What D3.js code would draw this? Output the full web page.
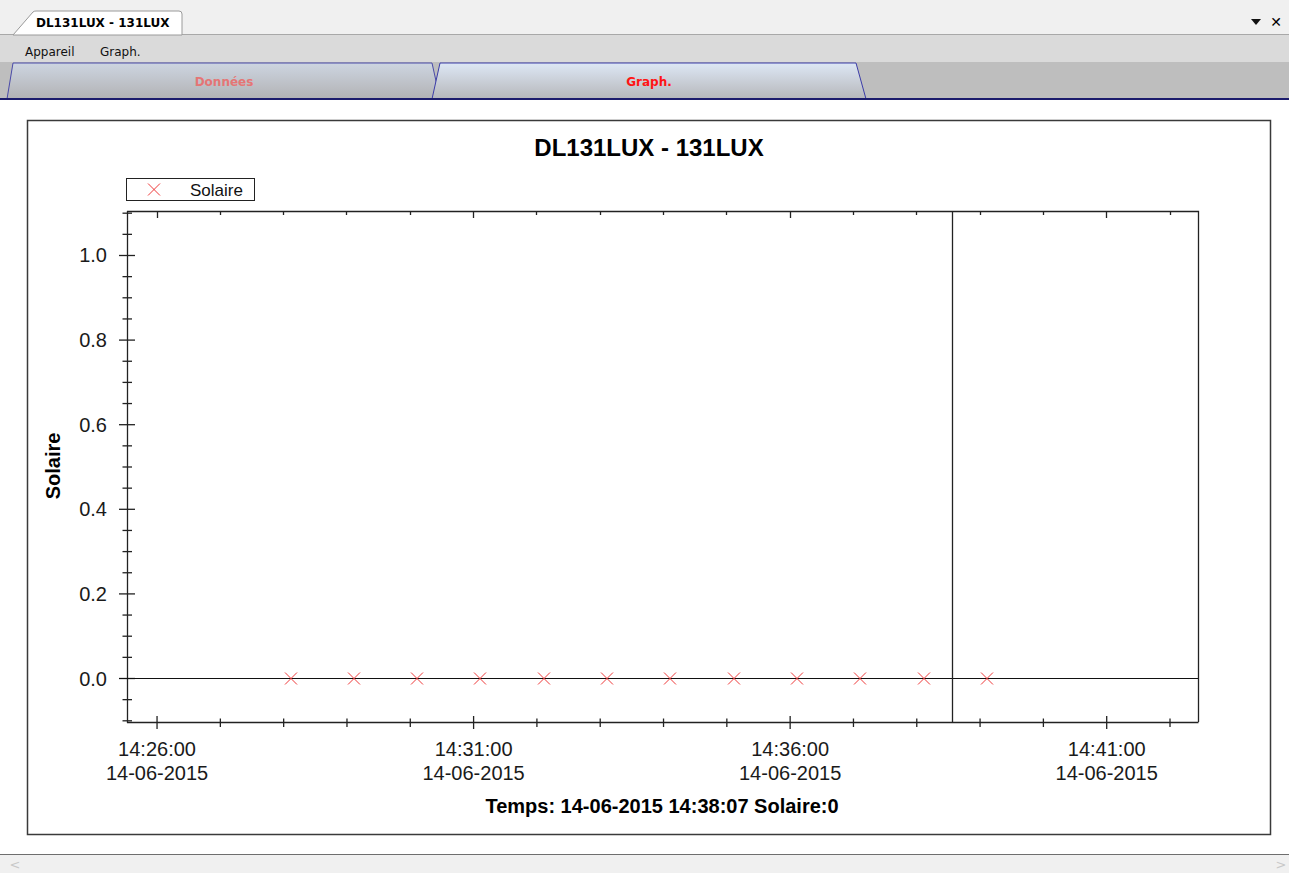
<!DOCTYPE html>
<html><head><meta charset="utf-8">
<script src="https://cdn.jsdelivr.net/npm/d3@7"></script>
<style>html,body{margin:0;padding:0;background:#fff;overflow:hidden}</style>
</head><body>
<svg id="c" width="1289" height="873"></svg>
<script>
// ---- data ----
const chartTitle = "DL131LUX - 131LUX";
const seriesName = "Solaire";
const dateLabel = "14-06-2015";
const sampleTimes = ["14:28:07","14:29:07","14:30:07","14:31:07","14:32:07","14:33:07","14:34:07","14:35:07","14:36:07","14:37:07","14:38:07","14:39:07"];
const solaireValues = [0,0,0,0,0,0,0,0,0,0,0,0];
const yTickValues = [0.0,0.2,0.4,0.6,0.8,1.0];
const xMajorTicks = ["14:26:00","14:31:00","14:36:00","14:41:00"];
const xDomainTimes = ["14:25:32","14:42:27.5"];
const yDomain = [-0.104,1.104];
const cursorTime = "14:38:34";
const statusText = "Temps: 14-06-2015 14:38:07 Solaire:0";

const parseT = s => { const p = s.split(":").map(Number); return new Date(2015,5,14,p[0],p[1],p[2]); };

const svg = d3.select("#c");
const F = "'Liberation Sans', Arial, sans-serif";
const UI = "'DejaVu Sans', 'Noto Sans', sans-serif";

// ---- window chrome ----
const defs = svg.append("defs");
const g1 = defs.append("linearGradient").attr("id","tabA").attr("x1",0).attr("y1",0).attr("x2",0).attr("y2",1);
g1.append("stop").attr("offset","0%").attr("stop-color","#dde7f5");
g1.append("stop").attr("offset","100%").attr("stop-color","#b6b7ba");
const g2 = defs.append("linearGradient").attr("id","tabB").attr("x1",0).attr("y1",0).attr("x2",0).attr("y2",1);
g2.append("stop").attr("offset","0%").attr("stop-color","#cdd5e1");
g2.append("stop").attr("offset","100%").attr("stop-color","#b2b2b4");

svg.append("rect").attr("x",0).attr("y",0).attr("width",1289).attr("height",35).attr("fill","#f0f0f0");
svg.append("rect").attr("x",0).attr("y",35).attr("width",1289).attr("height",27).attr("fill","#dadada");
svg.append("line").attr("x1",0).attr("x2",1289).attr("y1",34.5).attr("y2",34.5).attr("stroke","#a8a8a8");
svg.append("path").attr("d","M13,35 L33,12 Q34,11 36,11 L179,11 Q182,11 182,14 L182,35 Z")
  .attr("fill","#fff").attr("stroke","#9a9a9a");
svg.append("text").attr("x",36).attr("y",27).attr("font-family",UI).attr("font-size",12).attr("font-weight","bold").attr("fill","#000").text(chartTitle);
svg.append("path").attr("d","M1251,19 L1261,19 L1256,25 Z").attr("fill","#111");
svg.append("text").attr("x",1276).attr("y",27).attr("font-family",UI).attr("font-size",14).attr("text-anchor","middle").text("✕");
svg.append("text").attr("x",25).attr("y",56).attr("font-family",UI).attr("font-size",12).attr("fill","#111").text("Appareil");
svg.append("text").attr("x",100).attr("y",56).attr("font-family",UI).attr("font-size",12).attr("fill","#111").text("Graph.");

svg.append("rect").attr("x",0).attr("y",62).attr("width",1289).attr("height",37).attr("fill","#bebebe");
svg.append("path").attr("d","M7,99 L13,63 L432,63 L440,99 Z").attr("fill","url(#tabB)").attr("stroke","#4a4aa8");
svg.append("path").attr("d","M432,99 L440,63 L856,63 L866,99 Z").attr("fill","url(#tabA)").attr("stroke","#3c3ca8");
svg.append("line").attr("x1",0).attr("x2",1289).attr("y1",99).attr("y2",99).attr("stroke","#1c1c6c").attr("stroke-width",2);
svg.append("text").attr("x",224).attr("y",86).attr("text-anchor","middle").attr("font-family",UI).attr("font-size",12).attr("font-weight","bold").attr("fill","#e57575").text("Données");
svg.append("text").attr("x",649).attr("y",86).attr("text-anchor","middle").attr("font-family",UI).attr("font-size",12).attr("font-weight","bold").attr("fill","#ff1414").text("Graph.");

svg.append("rect").attr("x",0).attr("y",855).attr("width",1289).attr("height",18).attr("fill","#f0f0f0");
svg.append("line").attr("x1",0).attr("x2",1289).attr("y1",854.5).attr("y2",854.5).attr("stroke","#6e6e6e");
svg.append("text").attr("x",15).attr("y",869).attr("font-family",UI).attr("font-size",13).attr("fill","#c8c8c8").attr("text-anchor","middle").text("<");
svg.append("text").attr("x",1281).attr("y",869).attr("font-family",UI).attr("font-size",13).attr("fill","#c8c8c8").attr("text-anchor","middle").text(">");

// ---- chart frame ----
svg.append("rect").attr("x",27.5).attr("y",120.5).attr("width",1243).attr("height",714).attr("fill","#fff").attr("stroke","#3a3a3a").attr("stroke-width",1.5);

const L = 127, R = 1198, T = 211, B = 722;
const x = d3.scaleTime().domain(xDomainTimes.map(parseT)).range([L,R]);
const y = d3.scaleLinear().domain(yDomain).range([B,T]);

svg.append("text").attr("x",649).attr("y",156).attr("text-anchor","middle").attr("font-family",F).attr("font-size",24).attr("font-weight","bold").attr("fill","#000").text(chartTitle);

// legend
svg.append("rect").attr("x",126.5).attr("y",178.5).attr("width",128).attr("height",22).attr("fill","#fff").attr("stroke","#222");
const mk = (gs, cx, cy, r) => gs.append("path").attr("d",`M${cx-r},${cy-r}L${cx+r},${cy+r}M${cx-r},${cy+r}L${cx+r},${cy-r}`).attr("stroke","#ef3a3a").attr("stroke-width",1).attr("fill","none");
mk(svg,154,189.5,6);
svg.append("text").attr("x",190).attr("y",195.5).attr("font-family",F).attr("font-size",17).attr("fill","#111").text(seriesName);

// plot box (top and right)
svg.append("path").attr("d",`M${L},${T+0.5}H${R+0.5}V${B}`).attr("fill","none").attr("stroke","#222").attr("stroke-width",1.3);

// x axis minor/major ticks
const minorX = d3.timeMinute.range(x.domain()[0], x.domain()[1]);
const majorSet = new Set(xMajorTicks.map(s => +parseT(s)));
const gx = svg.append("g").attr("transform",`translate(0,${B})`)
  .call(d3.axisBottom(x).tickValues(minorX).tickSize(0).tickFormat(""));
gx.select(".domain").remove();
gx.selectAll(".tick line").remove();
gx.selectAll(".tick").append("line")
  .attr("y1", d => majorSet.has(+d) ? -6 : -3.5).attr("y2", d => majorSet.has(+d) ? 7 : 5)
  .attr("stroke","#222").attr("stroke-width",1.3);
// top ticks inward
svg.append("g").selectAll("line").data(minorX).join("line")
  .attr("x1",d=>Math.round(x(d))+0.5).attr("x2",d=>Math.round(x(d))+0.5)
  .attr("y1",T).attr("y2",d=> majorSet.has(+d)? T+7 : T+4).attr("stroke","#222").attr("stroke-width",1.3);
// bottom axis line
svg.append("line").attr("x1",L).attr("x2",R+0.5).attr("y1",B+0.5).attr("y2",B+0.5).attr("stroke","#222").attr("stroke-width",1.3);
// x labels
const gxl = svg.append("g").attr("transform",`translate(0,${B})`)
  .call(d3.axisBottom(x).tickValues(xMajorTicks.map(parseT)).tickSize(0).tickFormat(""));
gxl.select(".domain").remove();
gxl.selectAll(".tick text").remove();
gxl.selectAll(".tick").each(function(d,i){
  const t = d3.select(this).append("text").attr("font-family",F).attr("font-size",20).attr("fill","#1a1a1a").attr("text-anchor","middle");
  t.append("tspan").attr("x",0).attr("y",34).text(xMajorTicks[i]);
  t.append("tspan").attr("x",0).attr("y",58).text(dateLabel);
});

// y axis
const yMinor = d3.range(-0.1, 1.1001, 0.05).map(v => Math.round(v*100)/100);
const gy = svg.append("g").attr("transform",`translate(${L},0)`)
  .call(d3.axisLeft(y).tickValues(yMinor).tickSize(0).tickFormat(""));
gy.select(".domain").remove();
gy.selectAll(".tick").append("line")
  .attr("x1", d => yTickValues.some(v=>Math.abs(v-d)<1e-6) ? -8 : -4.5)
  .attr("x2", d => yTickValues.some(v=>Math.abs(v-d)<1e-6) ? 8 : 5)
  .attr("stroke","#222").attr("stroke-width",1.3);
svg.append("line").attr("x1",L+0.5).attr("x2",L+0.5).attr("y1",T).attr("y2",B+1).attr("stroke","#222").attr("stroke-width",1.3);
const gyl = svg.append("g").attr("transform",`translate(${L},0)`)
  .call(d3.axisLeft(y).tickValues(yTickValues).tickSize(0).tickPadding(20).tickFormat(d3.format(".1f")));
gyl.select(".domain").remove();
gyl.selectAll(".tick text").attr("font-family",F).attr("font-size",20).attr("fill","#1a1a1a").attr("dy","0.35em");

svg.append("text").attr("transform","translate(60,466) rotate(-90)").attr("text-anchor","middle")
  .attr("font-family",F).attr("font-size",20).attr("font-weight","bold").attr("fill","#000").text(seriesName);

// zero line
svg.append("line").attr("x1",L-8).attr("x2",R).attr("y1",Math.round(y(0))+0.5).attr("y2",Math.round(y(0))+0.5).attr("stroke","#111").attr("stroke-width",1.2);

// cursor line
const cx0 = Math.round(x(parseT(cursorTime)))+0.5;
svg.append("line").attr("x1",cx0).attr("x2",cx0).attr("y1",T).attr("y2",B).attr("stroke","#222").attr("stroke-width",1.3);

// markers
const pts = svg.append("g");
sampleTimes.forEach((t,i)=> mk(pts, Math.round(x(parseT(t))), Math.round(y(solaireValues[i]))+0.5, 6));

// status text
svg.append("text").attr("x",662).attr("y",813).attr("text-anchor","middle").attr("font-family",F).attr("font-size",20).attr("font-weight","bold").attr("fill","#000").text(statusText);
</script>
</body></html>
